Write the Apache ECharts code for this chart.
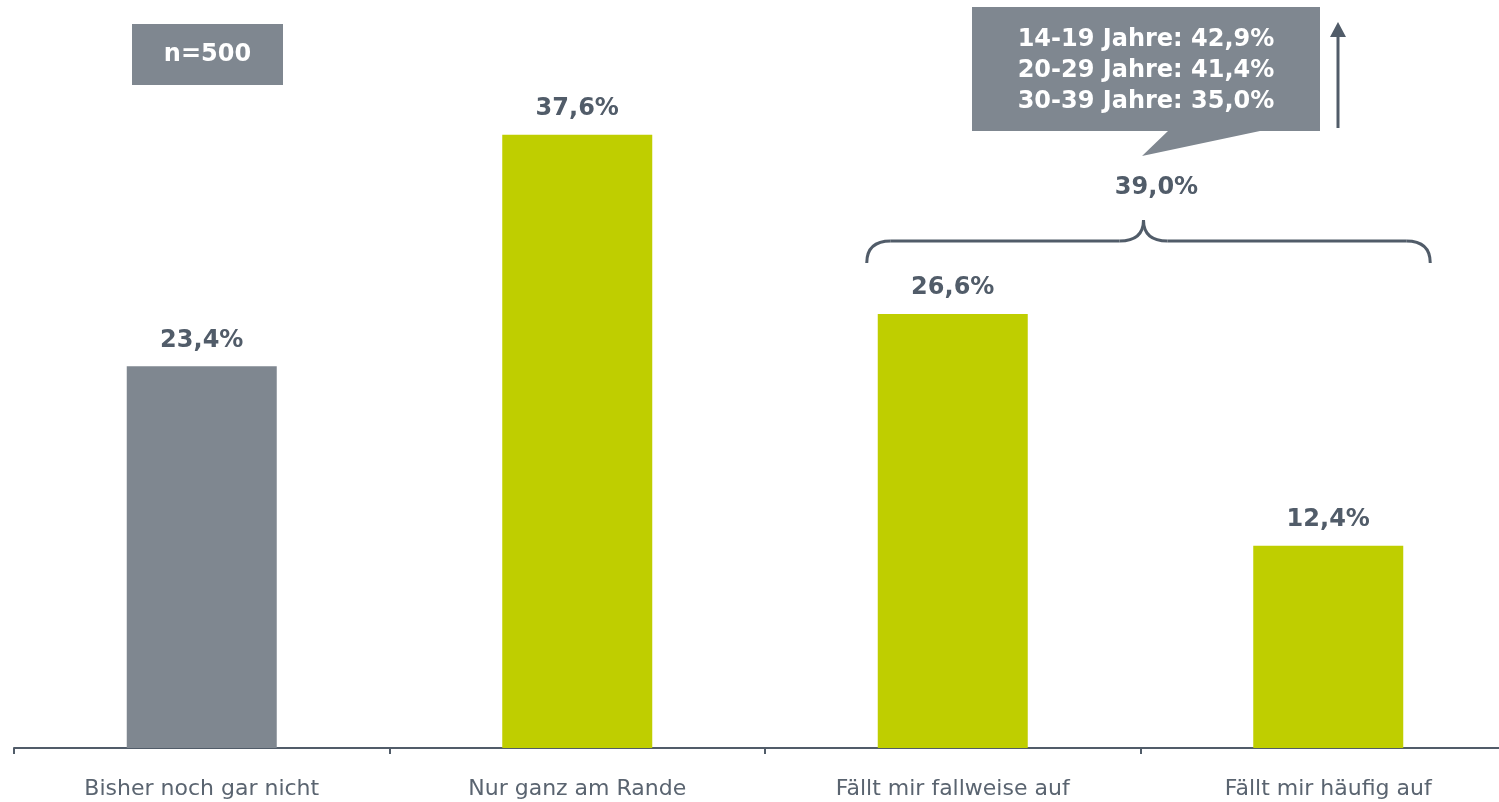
<!DOCTYPE html>
<html>
<head>
<meta charset="utf-8">
<script src="https://cdn.jsdelivr.net/npm/echarts@6/dist/echarts.min.js"></script>
<style>
html,body{margin:0;padding:0;background:#fff;overflow:hidden;width:1499px;height:802px;}
#main{width:1517px;height:802px;}
</style>
</head>
<body>
<div id="main"></div>
<script>
var categories = ['Bisher noch gar nicht', 'Nur ganz am Rande', 'Fällt mir fallweise auf', 'Fällt mir häufig auf'];
var values = [23.4, 37.6, 26.6, 12.4];
var barColors = ['#7f8790', '#bfce00', '#bfce00', '#bfce00'];
var braceLabel = '39,0%';
var calloutLines = ['14-19 Jahre: 42,9%', '20-29 Jahre: 41,4%', '30-39 Jahre: 35,0%'];
var sampleLabel = 'n=500';

var textDark = '#515c69';
var fontFam = '"DejaVu Sans", Verdana, sans-serif';

var chart = echarts.init(document.getElementById('main'), null, {renderer: 'canvas'});

function fmt(v) { return v.toFixed(1).replace('.', ',') + '%'; }

var option = {
  animation: false,
  backgroundColor: '#ffffff',
  grid: {left: 14, right: 1, top: 14, bottom: 54},
  xAxis: {
    type: 'category',
    data: categories,
    axisLine: {show: true, lineStyle: {color: '#515c69', width: 2}},
    axisTick: {show: true, length: 6, lineStyle: {color: '#515c69', width: 2}},
    axisLabel: {color: '#5a6470', fontSize: 22, fontFamily: fontFam, margin: 30}
  },
  yAxis: {
    type: 'value', min: 0, max: 45, show: false, splitLine: {show: false}
  },
  series: [{
    type: 'bar',
    barWidth: 150,
    data: values.map(function (v, i) { return {value: v, itemStyle: {color: barColors[i]}}; }),
    label: {
      show: true, position: 'top', distance: 14,
      color: textDark, fontSize: 24, fontWeight: 'bold', fontFamily: fontFam,
      formatter: function (p) { return fmt(p.value); }
    }
  }]
};
chart.setOption(option);

// annotations
var g = [];
var stroke = '#515c69';
// n=500 box
g.push({type: 'rect', shape: {x: 132, y: 24, width: 151, height: 61}, style: {fill: '#7f8790'}});
g.push({type: 'text', x: 207.5, y: 55, style: {text: sampleLabel, fill: '#ffffff', font: 'bold 24px ' + fontFam, align: 'center', verticalAlign: 'middle'}});

// brace spanning bars 3 and 4
var p3 = chart.convertToPixel({gridIndex: 0}, [2, 0]);
var p4 = chart.convertToPixel({gridIndex: 0}, [3, 0]);
var xl = p3[0] - 86, xr = p4[0] + 102, xm = (p3[0] + p4[0]) / 2 + 3;
var yEnd = 263, yH = 241, yPeak = 220, r = 24;
function bez(x1, y1, cx, cy, x2, y2) {
  g.push({type: 'bezierCurve', shape: {x1: x1, y1: y1, cpx1: cx, cpy1: cy, x2: x2, y2: y2}, style: {fill: null, stroke: stroke, lineWidth: 3}});
}
function ln(x1, y1, x2, y2) {
  g.push({type: 'line', shape: {x1: x1, y1: y1, x2: x2, y2: y2}, style: {stroke: stroke, lineWidth: 3}});
}
bez(xl, yEnd, xl, yH, xl + r, yH);
ln(xl + r, yH, xm - r, yH);
bez(xm - r, yH, xm, yH, xm, yPeak);
bez(xm, yPeak, xm, yH, xm + r, yH);
ln(xm + r, yH, xr - r, yH);
bez(xr - r, yH, xr, yH, xr, yEnd);
g.push({type: 'text', x: xm + 13, y: 188, style: {text: braceLabel, fill: textDark, font: 'bold 24px ' + fontFam, align: 'center', verticalAlign: 'middle'}});

// callout
g.push({type: 'polygon', shape: {points: [[972, 7], [1320, 7], [1320, 131], [1260, 131], [1142, 156], [1168, 131], [972, 131]]}, style: {fill: '#7f8790'}});
g.push({type: 'text', x: 1146, y: 71, style: {text: calloutLines.join('\n'), fill: '#ffffff', font: 'bold 24px ' + fontFam, align: 'center', verticalAlign: 'middle', lineHeight: 31}});

// arrow
ln(1338, 128, 1338, 34);
g.push({type: 'polygon', shape: {points: [[1338, 22], [1346, 37], [1330, 37]]}, style: {fill: stroke}});

chart.setOption({graphic: g});
</script>
</body>
</html>
